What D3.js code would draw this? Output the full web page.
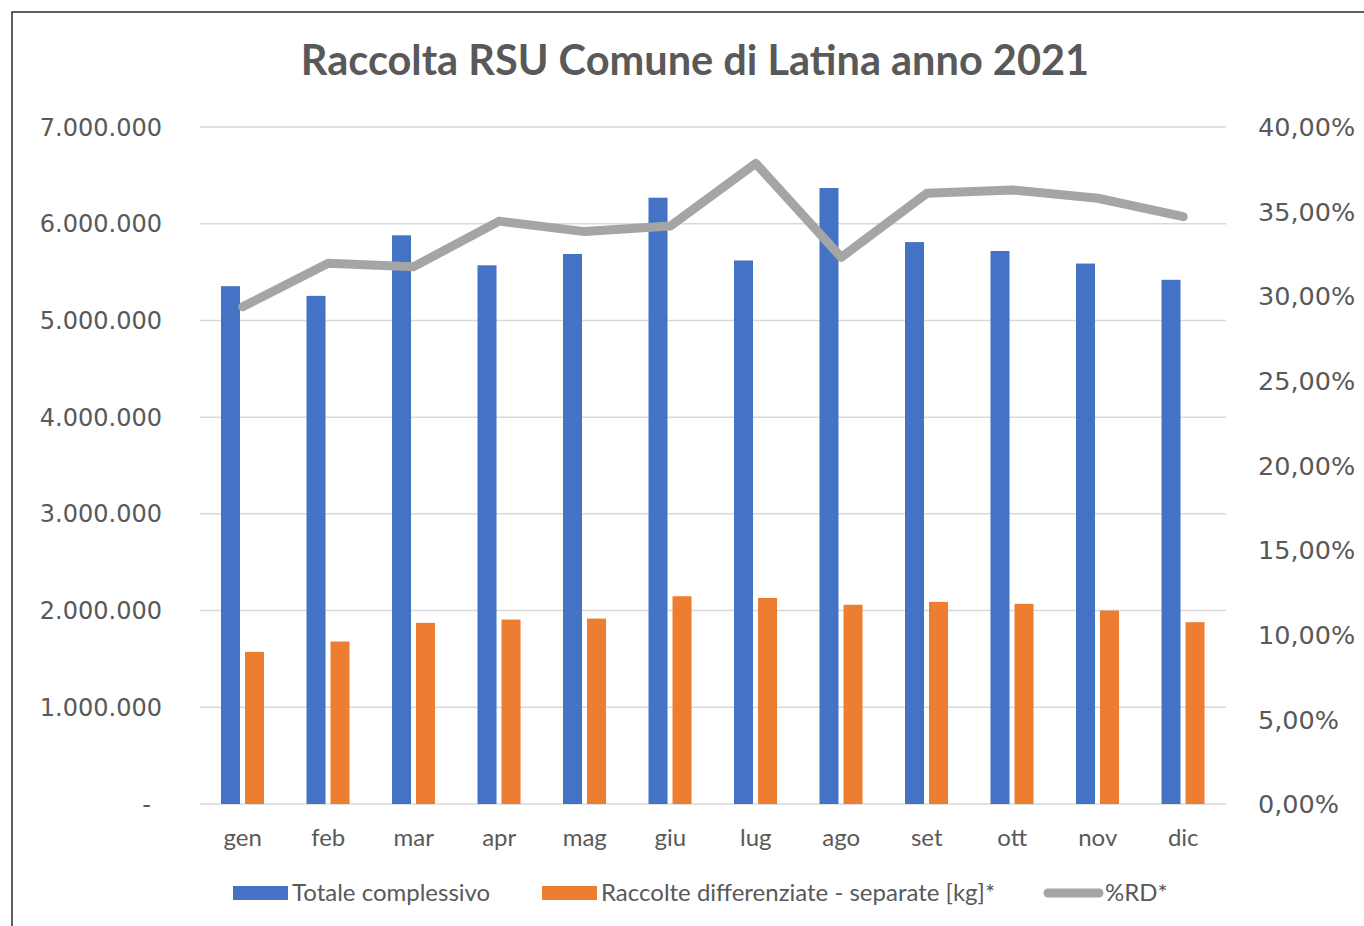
<!DOCTYPE html>
<html>
<head>
<meta charset="utf-8">
<script src="https://cdn.jsdelivr.net/npm/d3@7"></script>
<style>
  body { margin: 0; background: #fff; }
  svg { display: block; }
</style>
</head>
<body>
<svg id="chart" width="1364" height="926"></svg>
<script>
// data
const months = ["gen","feb","mar","apr","mag","giu","lug","ago","set","ott","nov","dic"];
const totale = [5354000,5254000,5880000,5570000,5687000,6269000,5620000,6369000,5810000,5718000,5588000,5420000];
const differenziate = [1573000,1680000,1873000,1907000,1917000,2148000,2130000,2060000,2090000,2070000,2000000,1880000];
const percRD = [0.2938,0.3195,0.3175,0.3444,0.3382,0.3415,0.3785,0.3230,0.3608,0.3628,0.3579,0.3470];
const leftTicks = [0,1000000,2000000,3000000,4000000,5000000,6000000,7000000];
const rightTicks = [0,0.05,0.10,0.15,0.20,0.25,0.30,0.35,0.40];

const textColor = "#595959";
const it = d3.formatLocale({decimal: ",", thousands: ".", grouping: [3], currency: ["€", ""]});
const fmtKg = it.format(",.0f");
const fmtPct = it.format(".2%");

const svg = d3.select("#chart");

// outer frame (only top and left edges visible in the reference)
svg.append("path")
  .attr("d", "M12,926 L12,12 L1364,12")
  .attr("fill", "none")
  .attr("stroke", "#2b2b2b")
  .attr("stroke-width", 1.5);

const plotLeft = 200, plotRight = 1226, plotTop = 127, plotBottom = 804;

let x = d3.scaleBand().domain(months).range([plotLeft, plotRight]);
let xSub = d3.scaleBand().domain(["tot","rd"])
  .range([x.bandwidth()*0.2456, x.bandwidth()*0.749]).paddingInner(0.208);
let y = d3.scaleLinear().domain([0,7000000]).range([plotBottom, plotTop]);
let y2 = d3.scaleLinear().domain([0,0.4]).range([plotBottom, plotTop]);

// title
svg.append("text")
  .attr("x", 695).attr("y", 75)
  .attr("text-anchor", "middle")
  .attr("font-family", "Lato")
  .attr("font-weight", "bold")
  .attr("font-size", 41.5)
  .attr("fill", textColor)
  .text("Raccolta RSU Comune di Latina anno 2021");

// gridlines
svg.append("g")
  .selectAll("line")
  .data(leftTicks)
  .enter()
  .append("line")
  .attr("x1", plotLeft).attr("x2", plotRight)
  .attr("y1", d => y(d)).attr("y2", d => y(d))
  .attr("stroke", "#d9d9d9")
  .attr("stroke-width", 1.5);

// left axis labels
svg.append("g")
  .selectAll("text")
  .data(leftTicks)
  .enter()
  .append("text")
  .attr("x", d => d === 0 ? 151 : 162)
  .attr("y", d => y(d))
  .attr("dy", "0.36em")
  .attr("text-anchor", "end")
  .attr("font-family", "DejaVu Sans")
  .attr("font-size", 24)
  .attr("fill", textColor)
  .text(d => d === 0 ? "-" : fmtKg(d));

// right axis labels
svg.append("g")
  .selectAll("text")
  .data(rightTicks)
  .enter()
  .append("text")
  .attr("x", 1258)
  .attr("y", d => y2(d))
  .attr("dy", "0.36em")
  .attr("text-anchor", "start")
  .attr("font-family", "DejaVu Sans")
  .attr("font-size", 25.5)
  .attr("fill", textColor)
  .text(d => fmtPct(d));

// month labels
svg.append("g")
  .selectAll("text")
  .data(months)
  .enter()
  .append("text")
  .attr("x", d => x(d) + x.bandwidth()/2)
  .attr("y", 846)
  .attr("text-anchor", "middle")
  .attr("font-family", "Lato")
  .attr("font-size", 24)
  .attr("fill", textColor)
  .text(d => d);

// bars
const bars = svg.append("g");
bars.selectAll("rect.tot")
  .data(totale)
  .enter()
  .append("rect")
  .attr("class", "tot")
  .attr("x", (d,i) => x(months[i]) + xSub("tot"))
  .attr("y", d => y(d))
  .attr("width", xSub.bandwidth())
  .attr("height", d => y(0) - y(d))
  .attr("fill", "#4472c4");

bars.selectAll("rect.rd")
  .data(differenziate)
  .enter()
  .append("rect")
  .attr("class", "rd")
  .attr("x", (d,i) => x(months[i]) + xSub("rd"))
  .attr("y", d => y(d))
  .attr("width", xSub.bandwidth())
  .attr("height", d => y(0) - y(d))
  .attr("fill", "#ed7d31");

// %RD line
const line = d3.line()
  .x((d,i) => x(months[i]) + x.bandwidth()/2)
  .y(d => y2(d));

svg.append("path")
  .datum(percRD)
  .attr("d", line)
  .attr("fill", "none")
  .attr("stroke", "#a5a5a5")
  .attr("stroke-width", 9)
  .attr("stroke-linejoin", "round")
  .attr("stroke-linecap", "round");

// legend
const legend = svg.append("g").attr("font-family", "Lato").attr("font-size", 24).attr("fill", textColor);
legend.append("rect").attr("x", 233).attr("y", 886).attr("width", 55).attr("height", 14).attr("fill", "#4472c4");
legend.append("text").attr("x", 292).attr("y", 901).text("Totale complessivo");
legend.append("rect").attr("x", 542).attr("y", 886).attr("width", 55).attr("height", 14).attr("fill", "#ed7d31");
legend.append("text").attr("x", 601).attr("y", 901).text("Raccolte differenziate - separate [kg]*");
legend.append("line").attr("x1", 1048).attr("x2", 1099).attr("y1", 893).attr("y2", 893)
  .attr("stroke", "#a5a5a5").attr("stroke-width", 9).attr("stroke-linecap", "round");
legend.append("text").attr("x", 1105).attr("y", 901).text("%RD*");
</script>
</body>
</html>
